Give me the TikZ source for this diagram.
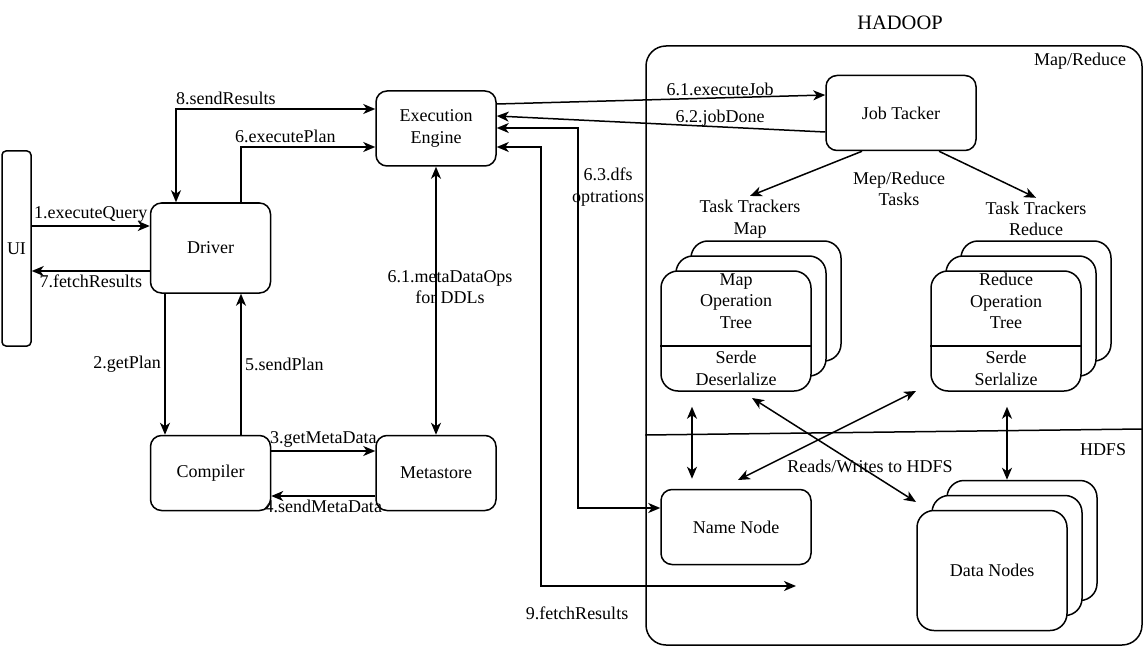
\documentclass[tikz,border=0pt]{standalone}
\usepackage{fontspec}
\setmainfont{Liberation Serif}
\usetikzlibrary{arrows,arrows.meta,positioning,shapes,calc}

\begin{document}
\begin{tikzpicture}[x = 1pt, y = -1pt, line width = 1.5pt,
  >={Stealth[length=12pt, width=10pt, inset=3.5pt]},
  font = \fontsize{18}{21.6}\selectfont,
  box/.style = {draw, rounded corners = 11pt, minimum width = 120pt, minimum height = 75pt, align = center},
  widebox/.style = {box, minimum width = 150pt},
  stackbox/.style = {draw, fill = white, rounded corners = 17pt, minimum width = 150pt, minimum height = 120pt, align = center},
  lbl/.style = {align = center}]
\useasboundingbox (0,0) rectangle (1145,647);

\node[draw, rounded corners = 4pt, minimum width = 29pt, minimum height = 195pt] (ui) at (16.5,248.5) {UI};
\node[box, minimum height = 90pt] (driver) at (210.5,248) {Driver};
\node[box] (engine) at (436,128.5) {Execution\\[1pt]Engine};
\node[box] (compiler) at (210.5,473) {Compiler};
\node[box] (metastore) at (436,473) {Metastore};

\node[draw, rounded corners = 20pt, minimum width = 496pt, minimum height = 599pt] (hadoop) at (894,345.5) {};
\node (hadooptitle) at (900,23) {\fontsize{20.5}{24}\selectfont HADOOP};
\node (mrlabel) at (1080,61) {Map/Reduce};
\node (hdfslabel) at (1103,450) {HDFS};
\draw (hadoop.west |- 0,435) -- (hadoop.east |- 0,429);

\node[widebox] (jobtracker) at (901,113) {Job Tacker};
\node[lbl] (maplabel) at (750,219) {Task Trackers\\Map};
\node[lbl] (reducelabel) at (1036,219) {Task Trackers\\Reduce};
\node[lbl] (taskslabel) at (899,189) {Mep/Reduce\\Tasks};

% map side
\node[stackbox] (mapback) at (766,301) {};
\node[stackbox] (mapmid) at (751,316) {};
\node[stackbox] (mapfront) at (736,331) {};
\draw ($(mapfront.west)+(0,15)$) -- ($(mapfront.east)+(0,15)$);
\node[lbl] (maptree) at (736,301) {Map\\Operation\\Tree};
\node[lbl] (mapserde) at (736,368.5) {Serde\\Deserlalize};

% reduce side
\node[stackbox] (reduceback) at (1036,301) {};
\node[stackbox] (reducemid) at (1021,316) {};
\node[stackbox] (reducefront) at (1006,331) {};
\draw ($(reducefront.west)+(0,15)$) -- ($(reducefront.east)+(0,15)$);
\node[lbl] (reducetree) at (1006,301) {Reduce\\Operation\\Tree};
\node[lbl] (reduceserde) at (1006,368.5) {Serde\\Serlalize};

% hdfs
\node[widebox] (namenode) at (736,527) {Name Node};
\node[stackbox] (databack) at (1022,540.5) {};
\node[stackbox] (datamid) at (1007,555.5) {};
\node[stackbox] (datafront) at (992,570.5) {Data Nodes};

\draw[->] (ui.east |- 0,226) -- node[midway, above] {1.executeQuery} (driver.west |- 0,226);
\draw[->] (driver.west |- 0,271) -- node[midway, below] {7.fetchResults} (ui.east |- 0,271);
\draw[<->] (176,0 |- driver.north) -- (176,109) -- node[pos = .25, above] {8.sendResults} (engine.west |- 0,109);
\draw[->] (241,0 |- driver.north) -- (241,147) -- node[pos = .33, above] {6.executePlan} (engine.west |- 0,147);
\draw[->] (165,0 |- driver.south) -- node[midway, left] {2.getPlan} (165,0 |- compiler.north);
\draw[->] (241,0 |- compiler.north) -- node[midway, right] {5.sendPlan} (241,0 |- driver.south);
\draw[->] (compiler.east |- 0,451) -- node[midway, above] {3.getMetaData} (metastore.west |- 0,451);
\draw[->] (metastore.west |- 0,496) -- node[midway, below] {4.sendMetaData} (compiler.east |- 0,496);
\draw[<->] (engine) -- (metastore);
\node[lbl] (ddllabel) at (450,287) {6.1.metaDataOps\\for DDLs};

\draw[->] (engine.east |- 0,104) -- node[pos = .68, above, inner sep = 1pt] {6.1.executeJob} (jobtracker.west |- 0,95);
\draw[->] (jobtracker.west |- 0,132) -- node[pos = .32, above, inner sep = 0pt] {6.2.jobDone} (engine.east |- 0,116);
\draw[->] ([xshift = -39pt]jobtracker.south) -- (maplabel.north);
\draw[->] ([xshift = 38pt]jobtracker.south) -- (reducelabel.north);

\draw[<->, shorten <= 15pt, shorten >= 10pt] (692,0 |- mapfront.south) -- (692,0 |- namenode.north);
\draw[<->, shorten <= 15pt] (1007,0 |- reducefront.south) -- (1007,0 |- databack.north);
\coordinate (rwmap) at (752,398);
\coordinate (rwdata) at (916,502);
\coordinate (rwname) at (738,480);
\coordinate (rwreduce) at (916,391);
\draw[<->] (rwmap) -- (rwdata);
\draw[<->] (rwname) -- (rwreduce);
\node (rwlabel) at (870,466) {Reads/Writes to HDFS};

\draw[<->] (engine.east |- 0,128) -- (578,128) -- (578,508) -- (namenode.west |- 0,508);
\node[lbl] (dfslabel) at (608,187) {6.3.dfs\\optrations};
\coordinate (fetchend) at (796,586);
\draw[<->] (engine.east |- 0,147) -- (541,147) -- (541,586) -- (fetchend);
\node (fetchlabel) at (577,613) {9.fetchResults};
\end{tikzpicture}
\end{document}
